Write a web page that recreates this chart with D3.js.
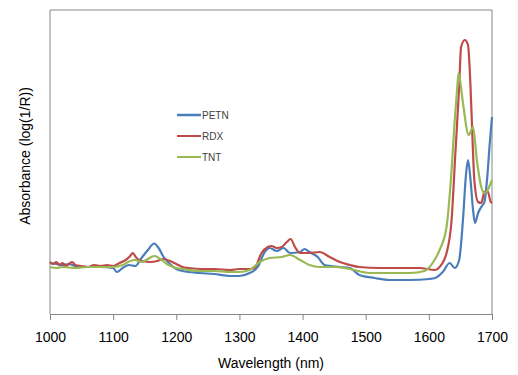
<!DOCTYPE html>
<html>
<head>
<meta charset="utf-8">
<script src="https://cdn.jsdelivr.net/npm/d3@7"></script>
<style>
  body { margin: 0; background: #fff; }
  svg { font-family: "Liberation Sans", Arial, sans-serif; }
</style>
</head>
<body>
<svg id="chart" width="518" height="375"></svg>
<script>
// wavelength (nm) / absorbance readings
var petnWl  = [1000,1010,1020,1030,1040,1060,1080,1100,1106,1115,1125,1135,1145,1155,1165,1172,1180,1190,1200,1210,1237,1260,1285,1300,1316,1329,1340,1348,1359,1370,1380,1396,1403,1411,1424,1435,1459,1475,1490,1514,1538,1570,1601,1610,1622,1633,1641,1648,1654,1659,1662,1666,1670,1673,1678,1683,1688,1693,1696,1700];
var petnAbs = [0.51,0.50,0.49,0.50,0.48,0.47,0.47,0.46,0.42,0.46,0.49,0.48,0.56,0.64,0.705,0.66,0.57,0.50,0.45,0.43,0.41,0.40,0.38,0.38,0.41,0.47,0.62,0.66,0.63,0.66,0.61,0.62,0.65,0.62,0.57,0.49,0.47,0.46,0.39,0.36,0.34,0.34,0.35,0.36,0.42,0.51,0.46,0.54,0.94,1.41,1.54,1.34,1.04,0.91,1.01,1.07,1.12,1.41,1.67,1.97];

var rdxWl  = [1000,1005,1010,1015,1020,1025,1030,1035,1040,1050,1060,1070,1080,1090,1100,1110,1120,1127,1131,1137,1145,1160,1170,1180,1190,1200,1210,1220,1240,1260,1285,1300,1316,1324,1335,1345,1351,1359,1367,1375,1381,1388,1396,1411,1427,1443,1459,1475,1490,1522,1554,1585,1610,1617,1628,1636,1642,1648,1651,1657,1662,1666,1669,1672,1678,1683,1688,1693,1698,1700];
var rdxAbs = [0.52,0.50,0.52,0.49,0.51,0.48,0.50,0.52,0.49,0.48,0.47,0.49,0.48,0.49,0.48,0.51,0.54,0.58,0.61,0.56,0.53,0.52,0.53,0.55,0.53,0.50,0.47,0.46,0.45,0.45,0.44,0.45,0.45,0.46,0.61,0.67,0.68,0.66,0.67,0.72,0.75,0.67,0.61,0.61,0.62,0.57,0.52,0.49,0.47,0.46,0.46,0.46,0.44,0.47,0.61,0.94,1.61,2.27,2.67,2.74,2.69,2.27,1.77,1.34,1.12,1.11,1.22,1.23,1.12,1.11];

var tntWl  = [1000,1010,1020,1040,1060,1080,1100,1115,1127,1135,1145,1155,1165,1175,1185,1200,1210,1237,1260,1285,1300,1316,1332,1348,1367,1380,1396,1411,1427,1451,1475,1506,1538,1570,1593,1606,1617,1628,1636,1641,1645,1647,1654,1663,1670,1676,1683,1688,1693,1700];
var tntAbs = [0.47,0.46,0.47,0.46,0.47,0.47,0.47,0.49,0.53,0.54,0.52,0.55,0.58,0.55,0.50,0.46,0.45,0.43,0.43,0.42,0.42,0.44,0.52,0.56,0.57,0.59,0.54,0.49,0.47,0.47,0.45,0.41,0.41,0.41,0.43,0.51,0.64,0.87,1.44,1.94,2.27,2.41,2.11,1.79,1.87,1.54,1.27,1.21,1.24,1.34];

var seriesNames = ["PETN", "RDX", "TNT"];
var seriesColors = ["#4a7ebb", "#be4b48", "#98b954"];
var xTicks = [1000, 1100, 1200, 1300, 1400, 1500, 1600, 1700];

var svg = d3.select("#chart");
var margin = { top: 10, right: 26, bottom: 61, left: 50 };
var width = 518 - margin.left - margin.right;
var height = 375 - margin.top - margin.bottom;

var x = d3.scaleLinear().domain([1000, 1700]).range([0, width]);
var y = d3.scaleLinear().domain([0, 3.04]).range([height, 0]);

var g = svg.append("g")
  .attr("transform", "translate(" + margin.left + "," + margin.top + ")");

// plot border (left, top, right)
g.append("path")
  .attr("d", "M0," + height + "V0H" + width + "V" + height)
  .attr("fill", "none")
  .attr("stroke", "#868686")
  .attr("stroke-width", 1);

// x axis
var xAxis = g.append("g")
  .attr("transform", "translate(0," + height + ")")
  .call(d3.axisBottom(x).tickValues(xTicks).tickSize(6).tickPadding(12).tickFormat(d3.format("d")));
xAxis.selectAll("path, line").attr("stroke", "#868686");
xAxis.selectAll("text")
  .style("font-size", "14px")
  .attr("fill", "#000");

// axis titles
svg.append("text")
  .attr("x", margin.left + width / 2)
  .attr("y", 368)
  .attr("text-anchor", "middle")
  .style("font-size", "14px")
  .text("Wavelength (nm)");

svg.append("text")
  .attr("transform", "translate(30," + (margin.top + 146) + ") rotate(-90)")
  .attr("text-anchor", "middle")
  .style("font-size", "14px")
  .text("Absorbance (log(1/R))");

// lines
var line = d3.line()
  .x(function(d) { return x(d[0]); })
  .y(function(d) { return y(d[1]); })
  .curve(d3.curveMonotoneX);

var allSeries = [
  d3.zip(petnWl, petnAbs),
  d3.zip(rdxWl, rdxAbs),
  d3.zip(tntWl, tntAbs)
];

allSeries.forEach(function(s, i) {
  g.append("path")
    .datum(s)
    .attr("fill", "none")
    .attr("stroke", seriesColors[i])
    .attr("stroke-width", 2.2)
    .attr("stroke-linejoin", "round")
    .attr("d", line);
});

// legend
var legend = svg.append("g").attr("transform", "translate(177,115)");
seriesNames.forEach(function(name, i) {
  var row = legend.append("g").attr("transform", "translate(0," + (i * 21) + ")");
  row.append("line")
    .attr("x1", 0).attr("x2", 24)
    .attr("stroke", seriesColors[i])
    .attr("stroke-width", i === 0 ? 2.5 : 2);
  row.append("text")
    .attr("x", 25)
    .attr("dy", "0.35em")
    .style("font-size", "10px")
    .attr("fill", "#404040")
    .text(name);
});
</script>
</body>
</html>
